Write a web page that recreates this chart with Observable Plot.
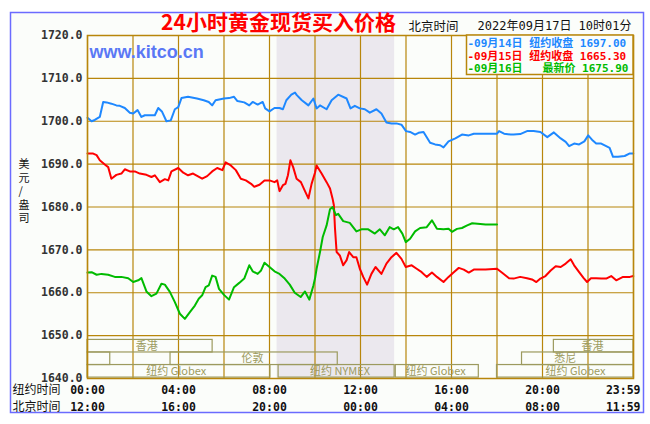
<!DOCTYPE html>
<html><head><meta charset="utf-8">
<script src="https://cdn.jsdelivr.net/npm/d3@7"></script>
<script src="https://cdn.jsdelivr.net/npm/@observablehq/plot@0.6"></script>
<style>
body{margin:0;background:#fff}
#chart svg{display:block}
</style>
</head><body><div id="chart"></div>
<script>
// ---- data: [hour (New York time), price] ----
const sep14 = [[0,1700.8],[0.18,1700.0],[0.32,1700.3],[0.54,1701.0],[0.69,1704.5],[0.84,1704.4],[1.05,1704.1],[1.27,1703.7],[1.42,1703.6],[1.64,1703.1],[1.86,1702.0],[2.01,1701.8],[2.20,1702.6],[2.37,1701.0],[2.52,1701.4],[2.74,1701.4],[2.96,1701.4],[3.11,1703.1],[3.28,1702.2],[3.47,1700.0],[3.66,1700.2],[3.84,1702.8],[3.99,1703.3],[4.13,1705.4],[4.42,1705.7],[4.81,1705.3],[5.11,1704.9],[5.33,1704.5],[5.48,1703.7],[5.63,1704.9],[6.0,1705.3],[6.22,1705.4],[6.44,1705.7],[6.59,1704.7],[6.89,1704.4],[7.11,1703.7],[7.26,1704.5],[7.48,1703.9],[7.70,1704.5],[7.81,1703.0],[8.0,1702.3],[8.22,1703.1],[8.44,1703.1],[8.59,1702.8],[8.74,1704.9],[8.96,1706.2],[9.12,1706.7],[9.20,1706.1],[9.42,1704.9],[9.71,1703.7],[9.93,1705.3],[10.07,1703.0],[10.22,1703.7],[10.51,1702.8],[10.73,1704.9],[11.02,1706.2],[11.39,1705.3],[11.56,1703.0],[11.75,1703.6],[11.97,1703.0],[12.19,1702.8],[12.41,1702.0],[12.70,1702.8],[12.92,1701.8],[13.14,1699.7],[13.36,1699.5],[13.58,1699.5],[13.80,1699.2],[14.0,1697.7],[14.18,1697.5],[14.40,1696.9],[14.55,1697.3],[14.77,1697.5],[15.06,1695.0],[15.28,1694.6],[15.50,1694.4],[15.65,1693.9],[15.87,1695.3],[16.17,1696.0],[16.46,1696.9],[16.76,1696.7],[16.98,1697.1],[17.50,1697.1],[18.0,1697.1],[18.09,1697.7],[18.31,1697.1],[18.61,1696.9],[18.73,1696.9],[19.02,1697.0],[19.32,1697.7],[19.61,1697.7],[19.91,1697.5],[20.21,1696.3],[20.50,1697.4],[20.80,1696.0],[21.02,1695.2],[21.17,1694.2],[21.39,1694.8],[21.61,1694.6],[21.84,1695.3],[22.01,1696.7],[22.21,1695.5],[22.36,1694.8],[22.58,1694.8],[22.80,1694.2],[22.95,1693.8],[23.10,1691.7],[23.32,1691.7],[23.61,1691.9],[23.84,1692.5],[23.99,1692.5]];
const sep15 = [[0,1692.45],[0.25,1692.45],[0.40,1692.1],[0.54,1690.9],[0.76,1689.9],[0.91,1689.3],[1.05,1686.6],[1.27,1687.5],[1.49,1687.8],[1.64,1688.8],[1.86,1688.3],[2.08,1688.3],[2.30,1687.8],[2.59,1687.5],[2.81,1687.0],[2.96,1687.4],[3.18,1685.8],[3.40,1686.5],[3.55,1686.2],[3.69,1688.3],[3.99,1689.1],[4.21,1688.0],[4.42,1687.4],[4.64,1687.8],[4.74,1687.5],[5.04,1686.6],[5.26,1687.2],[5.48,1688.3],[5.70,1689.1],[5.93,1688.6],[6.07,1690.4],[6.30,1689.7],[6.52,1688.6],[6.74,1686.6],[6.96,1686.2],[7.19,1685.4],[7.33,1684.7],[7.56,1685.2],[7.78,1686.2],[8.0,1686.2],[8.22,1685.8],[8.34,1686.2],[8.44,1683.7],[8.59,1685.1],[8.70,1685.4],[8.81,1687.4],[8.92,1690.9],[9.04,1689.3],[9.19,1686.6],[9.38,1685.8],[9.56,1683.7],[9.71,1682.0],[9.85,1685.4],[10.0,1688.0],[10.07,1689.7],[10.29,1687.8],[10.51,1685.8],[10.66,1684.3],[10.77,1682.0],[10.83,1680.4],[10.88,1674.9],[10.95,1669.5],[11.09,1668.7],[11.24,1666.4],[11.39,1667.6],[11.50,1669.5],[11.68,1668.3],[11.82,1668.3],[11.97,1665.6],[12.12,1663.7],[12.29,1661.9],[12.48,1664.4],[12.66,1666.0],[12.92,1664.4],[13.14,1666.8],[13.36,1668.3],[13.58,1669.3],[13.80,1667.9],[13.99,1666.0],[14.25,1666.4],[14.47,1665.6],[14.69,1664.8],[14.91,1663.7],[15.14,1664.7],[15.36,1663.7],[15.65,1662.5],[15.87,1663.7],[16.10,1664.8],[16.32,1665.8],[16.54,1665.4],[16.76,1664.7],[16.98,1665.4],[17.50,1665.4],[18.0,1665.6],[18.24,1664.6],[18.53,1663.4],[18.73,1663.3],[19.02,1663.7],[19.32,1663.4],[19.54,1663.1],[19.73,1662.5],[19.91,1663.3],[20.13,1663.9],[20.36,1665.2],[20.58,1666.2],[20.80,1666.0],[21.02,1666.8],[21.24,1667.8],[21.39,1666.4],[21.61,1664.8],[21.81,1663.4],[21.96,1662.5],[22.13,1663.4],[22.36,1663.4],[22.58,1663.3],[22.80,1663.3],[23.02,1663.9],[23.24,1662.9],[23.54,1663.7],[23.84,1663.7],[23.99,1663.9]];
const sep16 = [[0,1664.7],[0.18,1664.8],[0.40,1664.2],[0.62,1664.4],[0.91,1664.2],[1.20,1663.7],[1.49,1663.7],[1.79,1663.4],[2.01,1662.5],[2.23,1662.9],[2.37,1663.4],[2.59,1660.3],[2.81,1659.2],[3.03,1659.8],[3.25,1662.1],[3.40,1661.9],[3.62,1660.2],[3.84,1657.8],[4.06,1655.1],[4.28,1653.9],[4.50,1655.5],[4.72,1657.0],[4.89,1658.6],[5.04,1659.4],[5.19,1661.3],[5.33,1661.7],[5.48,1664.0],[5.63,1663.7],[5.78,1660.9],[6.0,1659.5],[6.22,1658.4],[6.44,1661.3],[6.67,1662.3],[6.89,1663.3],[7.11,1666.4],[7.26,1665.0],[7.48,1664.4],[7.63,1665.2],[7.78,1667.0],[8.0,1666.0],[8.22,1665.0],[8.44,1664.4],[8.67,1663.3],[8.89,1661.9],[9.11,1660.0],[9.37,1659.0],[9.56,1660.3],[9.75,1658.4],[9.93,1661.7],[10.0,1663.3],[10.07,1665.6],[10.22,1669.5],[10.34,1673.0],[10.51,1675.7],[10.66,1679.5],[10.77,1680.0],[10.92,1678.1],[11.02,1678.4],[11.24,1676.7],[11.53,1676.3],[11.82,1674.3],[12.04,1674.8],[12.34,1674.8],[12.63,1673.8],[12.85,1674.8],[13.07,1673.4],[13.28,1675.3],[13.46,1674.8],[13.65,1675.3],[13.84,1673.8],[13.99,1671.8],[14.18,1672.6],[14.40,1674.3],[14.62,1675.1],[14.91,1675.3],[15.14,1676.9],[15.36,1674.9],[15.65,1674.8],[15.87,1674.9],[16.02,1674.2],[16.24,1674.9],[16.46,1675.1],[16.69,1675.7],[16.91,1676.2],[17.50,1675.9],[18.0,1675.9]];

const yTicks = [1640,1650,1660,1670,1680,1690,1700,1710,1720];
const gridHours = [0,2,4,6,8,10,12,14,16,18,20,22,24];
const timeTicks = [0,4,8,12,16,20];
const nyLabels = ["00:00","04:00","08:00","12:00","16:00","20:00"];
const bjLabels = ["12:00","16:00","20:00","00:00","04:00","08:00"];
const endTick = 24, endNY = "23:59", endBJ = "11:59";
const nymexSpan = [[8.333, 13.5]];
// trading sessions (hours, New York time); mid = where the name sits
const sessions = [
  {row:0, name:"香港", start:0, end:5.5, mid:2.6},
  {row:0, name:"香港", start:20.5, end:24, mid:22.2},
  {row:1, name:"", start:0, end:1, mid:0.5},
  {row:1, name:"伦敦", start:3.65, end:11, mid:7.25},
  {row:1, name:"悉尼", start:19.1, end:24, mid:21.0},
  {row:2, name:"纽约 Globex", start:0, end:8.04, mid:3.9},
  {row:2, name:"纽约 NYMEX", start:8.4, end:13.5, mid:11.1},
  {row:2, name:"纽约 Globex", start:13.55, end:17.2, mid:15.3},
  {row:2, name:"纽约 Globex", start:18.0, end:24, mid:21.45}
];
const legendRows = [
  {text:"-09月14日 纽约收盘 1697.00", color:"#1e88ff"},
  {text:"-09月15日 纽约收盘 1665.30", color:"#ff0000"},
  {text:"-09月16日\u00a0\u00a0\u00a0最新价 1675.90", color:"#00bb00"}
];
const title = "24小时黄金现货买入价格";
const timeLabel = "北京时间";
const stamp = "2022年09月17日 10时01分";
const site = "www.kitco.cn";
const yTitle = "美\n元\n/\n盎\n司";

// ---- styles ----
const GRID = "#b8860b", BG = "#fbfdfa", OLIVE = "#9c9a5e";
const MONO = "'DejaVu Sans Mono','Noto Sans CJK SC',monospace";
const CJK = "'Noto Sans CJK SC','DejaVu Sans',sans-serif";
const bandTop = 1649.0, rowStep = 2.93;
const rowTop = r => bandTop - r*rowStep, rowBot = r => bandTop - (r+1)*rowStep;

const chart = Plot.plot({
  width: 650, height: 424,
  marginLeft: 87, marginRight: 17, marginTop: 35, marginBottom: 46,
  style: {background: "transparent", overflow: "visible"},
  x: {domain: [0, 24], axis: null},
  y: {domain: [1640, 1720], axis: null},
  marks: [
    Plot.frame({fill: BG}),
    Plot.rect(nymexSpan, {x1: d => d[0], x2: d => d[1], fill: "#ebe8ee"}),
    Plot.ruleY(yTicks, {stroke: GRID, strokeWidth: 1.2}),
    Plot.ruleX(gridHours, {stroke: GRID, strokeWidth: 1.2}),
    Plot.rect(sessions, {x1: "start", x2: "end", y1: d => rowBot(d.row), y2: d => rowTop(d.row), fill: "none", stroke: OLIVE, strokeWidth: 1.2}),
    Plot.text(sessions, {x: "mid", y: d => (rowTop(d.row)+rowBot(d.row))/2, text: "name", fill: OLIVE, fontSize: 11, fontFamily: CJK}),
    Plot.line(sep14, {x: d => d[0], y: d => d[1], stroke: "#1e88ff", strokeWidth: 2}),
    Plot.line(sep15, {x: d => d[0], y: d => d[1], stroke: "#ff0000", strokeWidth: 2}),
    Plot.line(sep16, {x: d => d[0], y: d => d[1], stroke: "#00bb00", strokeWidth: 2}),
    Plot.frame({stroke: GRID, strokeWidth: 1.5}),
    Plot.text(yTicks, {y: d => d, text: d => d.toFixed(1), frameAnchor: "left", textAnchor: "end", dx: -5, fontFamily: MONO, fontWeight: "bold", fontSize: 11.5, fill: "#333"}),
    Plot.text(timeTicks, {x: d => d, text: (d, i) => nyLabels[i], frameAnchor: "bottom", lineAnchor: "middle", dy: 12, fontFamily: MONO, fontWeight: "bold", fontSize: 11.5, fill: "#111"}),
    Plot.text(timeTicks, {x: d => d, text: (d, i) => bjLabels[i], frameAnchor: "bottom", lineAnchor: "middle", dy: 29, fontFamily: MONO, fontWeight: "bold", fontSize: 11.5, fill: "#111"}),
    Plot.text([endTick], {x: d => d, text: () => endNY, frameAnchor: "bottom", lineAnchor: "middle", textAnchor: "end", dx: 7, dy: 12, fontFamily: MONO, fontWeight: "bold", fontSize: 11.5, fill: "#111"}),
    Plot.text([endTick], {x: d => d, text: () => endBJ, frameAnchor: "bottom", lineAnchor: "middle", textAnchor: "end", dx: 7, dy: 29, fontFamily: MONO, fontWeight: "bold", fontSize: 11.5, fill: "#111"}),
    Plot.text(["纽约时间"], {text: d => d, frameAnchor: "bottom-left", lineAnchor: "middle", textAnchor: "start", dx: -75, dy: 12, fontFamily: CJK, fontSize: 12, fill: "#111"}),
    Plot.text(["北京时间"], {text: d => d, frameAnchor: "bottom-left", lineAnchor: "middle", textAnchor: "start", dx: -75, dy: 29, fontFamily: CJK, fontSize: 12, fill: "#111"}),
    Plot.text([yTitle], {text: d => d, frameAnchor: "left", lineAnchor: "middle", dx: -69, dy: -16, lineHeight: 1.23, fontFamily: CJK, fontSize: 11, fill: "#111"}),
    Plot.text([title], {text: d => d, frameAnchor: "top-left", lineAnchor: "middle", textAnchor: "middle", dx: 191, dy: -12, fontFamily: CJK, fontWeight: 600, fontSize: 21, fill: "#ff0000"}),
    Plot.text([timeLabel], {text: d => d, frameAnchor: "top-left", lineAnchor: "middle", textAnchor: "start", dx: 321, dy: -9, fontFamily: CJK, fontSize: 12.5, fill: "#111"}),
    Plot.text([stamp], {text: d => d, frameAnchor: "top-right", lineAnchor: "middle", textAnchor: "end", dx: -2, dy: -9, fontFamily: MONO, fontSize: 12, fill: "#111"}),
    Plot.text([site], {text: d => d, frameAnchor: "top-left", lineAnchor: "middle", textAnchor: "start", dx: 2, dy: 17, fontFamily: "'Liberation Sans',Arial,sans-serif", fontWeight: "bold", fontSize: 18, fill: "#5a78f5"}),
    ...legendRows.map((r, i) => Plot.text([r.text], {text: d => d, frameAnchor: "top-left", lineAnchor: "middle", textAnchor: "start", dx: 380, dy: 8.3 + i*12.5, fontFamily: MONO, fontSize: 11, fontWeight: "bold", fill: r.color}))
  ]
});

const svgNS = "http://www.w3.org/2000/svg";
const border = document.createElementNS(svgNS, "rect");
border.setAttribute("x", 10.5); border.setAttribute("y", 12.5); border.setAttribute("width", 633); border.setAttribute("height", 400);
border.setAttribute("fill", BG); border.setAttribute("stroke", "#6b6bff"); border.setAttribute("stroke-width", 1.5);
chart.insertBefore(border, chart.firstChild);
const firstText = Array.from(chart.querySelectorAll("text")).find(t => t.textContent === legendRows[0].text);
if (firstText) {
  let node = firstText;
  while (node.parentNode && node.parentNode !== chart) node = node.parentNode;
  const lg = document.createElementNS(svgNS, "rect");
  lg.setAttribute("x", 466.5); lg.setAttribute("y", 35); lg.setAttribute("width", 166.5); lg.setAttribute("height", 39.5);
  lg.setAttribute("fill", BG); lg.setAttribute("stroke", GRID); lg.setAttribute("stroke-width", 1.5);
  chart.insertBefore(lg, node);
}
document.getElementById("chart").append(chart);
</script>
</body></html>
